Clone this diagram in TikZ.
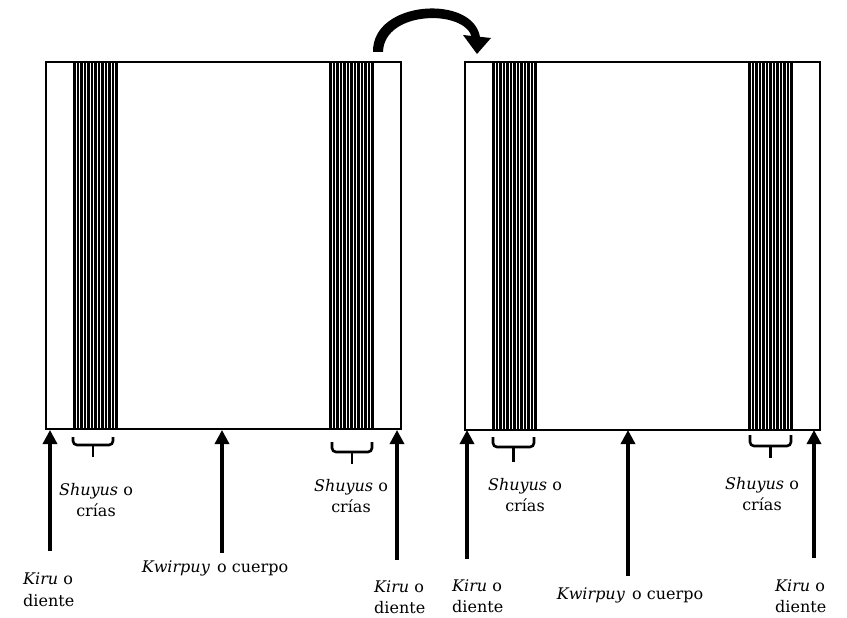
\documentclass[tikz,border=0pt]{standalone}
\usepackage{fontspec}
\setmainfont{DejaVu Serif}
\usetikzlibrary{arrows.meta}
\tikzset{
  box/.style={draw, line width=2.4pt, rectangle, inner sep=0pt},
  bar/.style={fill=black},
  uparrow/.style={line width=3.3pt, -{Triangle[width=14pt,length=14pt]}, shorten >=-1pt},
  bracket/.style={draw, line width=2.6pt, rounded corners=4pt},
  stem/.style={draw, line width=2.6pt},
  lab/.style={inner sep=0pt, font=\fontsize{16}{21.5}\selectfont},
}
\begin{document}
\begin{tikzpicture}[x=1pt,y=-1pt]
\useasboundingbox (0,0) rectangle (847,618);

% stripes
\foreach \s in {73.2,329.2,492.2,748.2}{
  \foreach \i in {0,...,12}{
    \fill[bar] ({\s+\i*3.5},62) rectangle ({\s+\i*3.5+2.3},429);
  }
}

% rectangles
\node[box, minimum width=355pt, minimum height=367pt] (L) at (223.5,245.5) {};
\node[box, minimum width=355pt, minimum height=368pt] (R) at (642.5,246) {};

% curved arrow
\coordinate (c1) at (373,52);
\coordinate (c2) at (383,52);
\coordinate (c3) at (480,37);
\coordinate (c4) at (472,38);
\fill (c1) .. controls (372,0) and (473,-6) .. (c3) -- (c4) .. controls (466,9) and (384,10) .. (c2) -- cycle;
\coordinate (h1) at (463,35);
\coordinate (h2) at (491,38);
\coordinate (h3) at (477,54);
\fill (h1) -- (h2) -- (h3) -- cycle;

% labels
\node[lab, align=center] (s1) at (96,500) {\textit{Shuyus} o\\crías};
\node[lab, align=center] (s2) at (351,496) {\textit{Shuyus} o\\crías};
\node[lab, align=center] (s3) at (525,495) {\textit{Shuyus} o\\crías};
\node[lab, align=center] (s4) at (762,494) {\textit{Shuyus} o\\crías};

\node[lab, align=left, anchor=west] (k1) at (23,589.5) {\textit{Kiru} o\\diente};
\node[lab, align=left, anchor=west] (k2) at (374,597) {\textit{Kiru} o\\diente};
\node[lab, align=left, anchor=west] (k3) at (452,596) {\textit{Kiru} o\\diente};
\node[lab, align=left, anchor=west] (k4) at (775,596) {\textit{Kiru} o\\diente};

\node[lab] (w1) at (215,568) {\textit{Kwirpuy}\hspace{0.45em}o cuerpo};
\node[lab] (w2) at (630,595) {\textit{Kwirpuy}\hspace{0.45em}o cuerpo};

% arrows
\coordinate (t1) at (50,551); \coordinate (p1) at (50,431);
\coordinate (t2) at (222,553); \coordinate (p2) at (222,431);
\coordinate (t3) at (397,560); \coordinate (p3) at (397,431);
\coordinate (t4) at (467,559); \coordinate (p4) at (467,431);
\coordinate (t5) at (628,576); \coordinate (p5) at (628,431);
\coordinate (t6) at (814,558); \coordinate (p6) at (814,431);
\foreach \n in {1,...,6}{ \draw[uparrow] (t\n) -- (p\n); }

% brackets
\draw[bracket] (73,437) |- (113,445) -- (113,437);
\draw[stem] (93,445) -- (93,457);
\draw[bracket] (332,442) |- (372,452) -- (372,442);
\draw[stem] (352,452) -- (352,464);
\draw[bracket] (493,437) |- (534,447) -- (534,437);
\draw[stem] (513.5,447) -- (513.5,462);
\draw[bracket] (750,435) |- (791,446) -- (791,435);
\draw[stem] (770.5,446) -- (770.5,458);
\end{tikzpicture}
\end{document}
